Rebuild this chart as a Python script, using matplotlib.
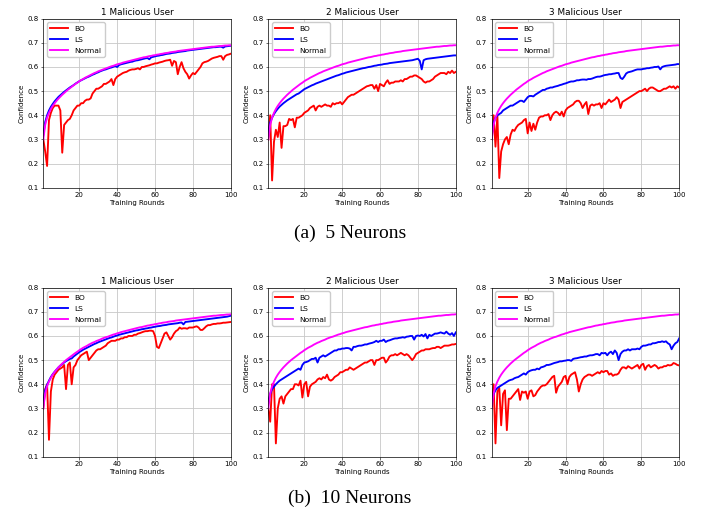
import numpy as np
import matplotlib
matplotlib.use('Agg')
import matplotlib.pyplot as plt

rounds = np.arange(1, 101)

# ---- 5 neurons ----
normal_5n = [0.300, 0.360, 0.390, 0.410, 0.426, 0.439, 0.450, 0.460, 0.469, 0.477,
             0.485, 0.492, 0.499, 0.506, 0.512, 0.518, 0.524, 0.530, 0.535, 0.541,
             0.546, 0.550, 0.555, 0.559, 0.563, 0.567, 0.571, 0.575, 0.578, 0.582,
             0.585, 0.588, 0.591, 0.594, 0.597, 0.600, 0.603, 0.605, 0.608, 0.611,
             0.613, 0.615, 0.618, 0.620, 0.622, 0.624, 0.626, 0.628, 0.630, 0.632,
             0.634, 0.636, 0.638, 0.640, 0.641, 0.643, 0.645, 0.646, 0.648, 0.649,
             0.651, 0.652, 0.654, 0.655, 0.657, 0.658, 0.659, 0.661, 0.662, 0.663,
             0.664, 0.666, 0.667, 0.668, 0.669, 0.670, 0.671, 0.672, 0.673, 0.674,
             0.675, 0.676, 0.677, 0.678, 0.679, 0.680, 0.681, 0.682, 0.683, 0.684,
             0.684, 0.685, 0.686, 0.687, 0.687, 0.688, 0.689, 0.689, 0.690, 0.690]

ls_1mal_5n = [0.320, 0.372, 0.400, 0.420, 0.435, 0.447, 0.458, 0.467, 0.476, 0.483,
              0.490, 0.497, 0.503, 0.509, 0.515, 0.520, 0.525, 0.531, 0.536, 0.541,
              0.545, 0.549, 0.553, 0.557, 0.560, 0.564, 0.568, 0.571, 0.575, 0.578,
              0.582, 0.585, 0.588, 0.590, 0.593, 0.596, 0.598, 0.601, 0.604, 0.600,
              0.608, 0.611, 0.613, 0.615, 0.617, 0.619, 0.621, 0.622, 0.625, 0.627,
              0.628, 0.630, 0.632, 0.634, 0.636, 0.637, 0.632, 0.640, 0.642, 0.644,
              0.646, 0.647, 0.649, 0.650, 0.652, 0.654, 0.655, 0.656, 0.658, 0.659,
              0.660, 0.662, 0.663, 0.664, 0.665, 0.666, 0.668, 0.669, 0.670, 0.671,
              0.672, 0.673, 0.674, 0.675, 0.676, 0.677, 0.678, 0.679, 0.680, 0.681,
              0.682, 0.682, 0.683, 0.684, 0.684, 0.680, 0.685, 0.686, 0.687, 0.688]

bo_1mal_5n = [0.300, 0.250, 0.190, 0.380, 0.410, 0.430, 0.440, 0.440, 0.440, 0.420,
              0.245, 0.360, 0.370, 0.380, 0.385, 0.400, 0.420, 0.430, 0.440, 0.440,
              0.450, 0.450, 0.460, 0.465, 0.465, 0.470, 0.490, 0.500, 0.510, 0.510,
              0.515, 0.520, 0.530, 0.530, 0.535, 0.540, 0.550, 0.525, 0.550, 0.560,
              0.565, 0.570, 0.575, 0.578, 0.580, 0.585, 0.588, 0.590, 0.590, 0.592,
              0.595, 0.590, 0.600, 0.600, 0.603, 0.605, 0.607, 0.610, 0.612, 0.615,
              0.615, 0.618, 0.620, 0.622, 0.625, 0.627, 0.628, 0.630, 0.605, 0.625,
              0.620, 0.570, 0.600, 0.620, 0.595, 0.580, 0.570, 0.552, 0.565, 0.575,
              0.570, 0.580, 0.590, 0.600, 0.615, 0.620, 0.622, 0.625, 0.630, 0.635,
              0.638, 0.640, 0.642, 0.645, 0.645, 0.630, 0.645, 0.650, 0.652, 0.655]

ls_2mal_5n = [0.330, 0.370, 0.390, 0.405, 0.417, 0.427, 0.436, 0.443, 0.450, 0.456,
              0.462, 0.467, 0.472, 0.477, 0.482, 0.487, 0.490, 0.496, 0.502, 0.508,
              0.512, 0.516, 0.520, 0.524, 0.527, 0.531, 0.534, 0.537, 0.540, 0.543,
              0.546, 0.549, 0.552, 0.555, 0.558, 0.561, 0.564, 0.566, 0.569, 0.572,
              0.574, 0.577, 0.579, 0.581, 0.583, 0.585, 0.587, 0.589, 0.591, 0.593,
              0.595, 0.596, 0.598, 0.600, 0.601, 0.603, 0.605, 0.606, 0.608, 0.609,
              0.610, 0.612, 0.613, 0.614, 0.616, 0.617, 0.618, 0.619, 0.620, 0.621,
              0.622, 0.623, 0.624, 0.625, 0.626, 0.627, 0.628, 0.630, 0.632, 0.634,
              0.625, 0.590, 0.628, 0.632, 0.634, 0.635, 0.636, 0.637, 0.638, 0.639,
              0.640, 0.641, 0.642, 0.643, 0.644, 0.645, 0.646, 0.647, 0.648, 0.648]

bo_2mal_5n = [0.300, 0.400, 0.130, 0.290, 0.340, 0.310, 0.370, 0.265, 0.355, 0.355,
              0.360, 0.385, 0.380, 0.385, 0.350, 0.390, 0.390, 0.395, 0.400, 0.410,
              0.415, 0.420, 0.430, 0.435, 0.440, 0.420, 0.435, 0.440, 0.435, 0.440,
              0.445, 0.440, 0.440, 0.435, 0.450, 0.445, 0.450, 0.450, 0.455, 0.445,
              0.455, 0.465, 0.475, 0.480, 0.485, 0.485, 0.490, 0.495, 0.500, 0.505,
              0.510, 0.515, 0.520, 0.522, 0.525, 0.525, 0.510, 0.525, 0.500, 0.530,
              0.525, 0.520, 0.535, 0.545, 0.530, 0.535, 0.535, 0.540, 0.540, 0.540,
              0.545, 0.540, 0.550, 0.550, 0.555, 0.560, 0.560, 0.565, 0.565, 0.560,
              0.555, 0.550, 0.540, 0.535, 0.540, 0.540, 0.545, 0.550, 0.560, 0.565,
              0.570, 0.575, 0.575, 0.575, 0.570, 0.580, 0.575, 0.585, 0.575, 0.580]

ls_3mal_5n = [0.320, 0.370, 0.390, 0.400, 0.405, 0.410, 0.420, 0.425, 0.430, 0.435,
              0.440, 0.440, 0.445, 0.450, 0.455, 0.460, 0.460, 0.455, 0.465, 0.475,
              0.480, 0.480, 0.478, 0.485, 0.490, 0.495, 0.500, 0.505, 0.505, 0.510,
              0.512, 0.515, 0.515, 0.518, 0.520, 0.522, 0.525, 0.527, 0.530, 0.532,
              0.535, 0.538, 0.540, 0.540, 0.542, 0.545, 0.545, 0.547, 0.548, 0.548,
              0.547, 0.550, 0.550, 0.552, 0.555, 0.558, 0.560, 0.560, 0.562, 0.565,
              0.567, 0.568, 0.570, 0.570, 0.572, 0.573, 0.575, 0.575, 0.555, 0.550,
              0.560, 0.573, 0.578, 0.580, 0.582, 0.585, 0.588, 0.590, 0.590, 0.590,
              0.592, 0.593, 0.595, 0.595, 0.597, 0.598, 0.600, 0.600, 0.602, 0.590,
              0.600, 0.603, 0.605, 0.606, 0.607, 0.608, 0.609, 0.610, 0.612, 0.612]

bo_3mal_5n = [0.300, 0.400, 0.270, 0.400, 0.140, 0.250, 0.280, 0.300, 0.310, 0.280,
              0.320, 0.340, 0.335, 0.350, 0.360, 0.365, 0.370, 0.380, 0.385, 0.325,
              0.370, 0.335, 0.365, 0.340, 0.370, 0.390, 0.395, 0.395, 0.400, 0.400,
              0.405, 0.380, 0.400, 0.410, 0.415, 0.410, 0.400, 0.415, 0.395, 0.420,
              0.430, 0.435, 0.440, 0.445, 0.455, 0.460, 0.460, 0.450, 0.430, 0.445,
              0.455, 0.405, 0.440, 0.445, 0.440, 0.445, 0.445, 0.450, 0.430, 0.450,
              0.445, 0.455, 0.465, 0.455, 0.460, 0.465, 0.475, 0.465, 0.430, 0.455,
              0.460, 0.465, 0.470, 0.475, 0.480, 0.485, 0.490, 0.495, 0.500, 0.500,
              0.505, 0.510, 0.500, 0.510, 0.515, 0.515, 0.510, 0.505, 0.500, 0.500,
              0.505, 0.510, 0.510, 0.515, 0.520, 0.515, 0.520, 0.510, 0.520, 0.515]

# ---- 10 neurons ----
normal_10n = [0.300, 0.362, 0.392, 0.411, 0.427, 0.440, 0.451, 0.461, 0.470, 0.478,
              0.486, 0.493, 0.500, 0.506, 0.512, 0.518, 0.524, 0.530, 0.535, 0.541,
              0.546, 0.551, 0.555, 0.559, 0.564, 0.568, 0.572, 0.575, 0.579, 0.582,
              0.585, 0.589, 0.592, 0.595, 0.597, 0.600, 0.603, 0.606, 0.608, 0.611,
              0.613, 0.616, 0.618, 0.620, 0.622, 0.624, 0.626, 0.628, 0.630, 0.632,
              0.634, 0.636, 0.637, 0.639, 0.641, 0.643, 0.644, 0.646, 0.647, 0.649,
              0.650, 0.652, 0.653, 0.655, 0.656, 0.657, 0.659, 0.660, 0.661, 0.662,
              0.664, 0.665, 0.666, 0.667, 0.668, 0.669, 0.670, 0.671, 0.672, 0.673,
              0.674, 0.675, 0.676, 0.677, 0.678, 0.679, 0.680, 0.681, 0.682, 0.683,
              0.684, 0.684, 0.685, 0.686, 0.687, 0.687, 0.688, 0.689, 0.689, 0.690]

ls_1mal_10n = [0.330, 0.375, 0.398, 0.415, 0.430, 0.442, 0.452, 0.461, 0.470, 0.477,
               0.484, 0.490, 0.496, 0.500, 0.505, 0.507, 0.515, 0.521, 0.527, 0.533,
               0.538, 0.543, 0.547, 0.551, 0.555, 0.559, 0.563, 0.567, 0.570, 0.574,
               0.577, 0.580, 0.583, 0.586, 0.589, 0.592, 0.594, 0.597, 0.600, 0.602,
               0.605, 0.607, 0.609, 0.611, 0.613, 0.615, 0.617, 0.619, 0.621, 0.623,
               0.624, 0.626, 0.628, 0.629, 0.631, 0.632, 0.634, 0.635, 0.637, 0.638,
               0.640, 0.641, 0.642, 0.644, 0.645, 0.646, 0.648, 0.649, 0.650, 0.651,
               0.652, 0.653, 0.655, 0.656, 0.648, 0.658, 0.659, 0.660, 0.661, 0.662,
               0.663, 0.664, 0.665, 0.666, 0.667, 0.668, 0.669, 0.670, 0.671, 0.672,
               0.673, 0.674, 0.675, 0.676, 0.677, 0.678, 0.679, 0.680, 0.682, 0.684]

bo_1mal_10n = [0.300, 0.380, 0.400, 0.170, 0.370, 0.420, 0.440, 0.450, 0.460, 0.465,
               0.470, 0.480, 0.380, 0.480, 0.490, 0.400, 0.470, 0.480, 0.500, 0.510,
               0.520, 0.525, 0.530, 0.535, 0.500, 0.510, 0.520, 0.530, 0.540, 0.545,
               0.545, 0.550, 0.555, 0.560, 0.570, 0.575, 0.580, 0.580, 0.580, 0.585,
               0.585, 0.590, 0.590, 0.595, 0.595, 0.600, 0.600, 0.600, 0.605, 0.605,
               0.610, 0.612, 0.615, 0.618, 0.620, 0.620, 0.622, 0.622, 0.620, 0.600,
               0.555, 0.550, 0.570, 0.590, 0.610, 0.615, 0.600, 0.585, 0.595, 0.610,
               0.620, 0.625, 0.635, 0.630, 0.632, 0.632, 0.630, 0.635, 0.635, 0.635,
               0.638, 0.640, 0.635, 0.625, 0.625, 0.632, 0.640, 0.645, 0.645, 0.648,
               0.650, 0.650, 0.652, 0.652, 0.653, 0.655, 0.655, 0.656, 0.657, 0.658]

ls_2mal_10n = [0.330, 0.360, 0.380, 0.390, 0.400, 0.408, 0.415, 0.420, 0.425, 0.430,
               0.435, 0.440, 0.445, 0.450, 0.455, 0.460, 0.465, 0.460, 0.480, 0.490,
               0.492, 0.495, 0.500, 0.505, 0.505, 0.510, 0.490, 0.510, 0.515, 0.520,
               0.515, 0.520, 0.525, 0.530, 0.535, 0.540, 0.540, 0.545, 0.545, 0.548,
               0.548, 0.550, 0.550, 0.548, 0.540, 0.555, 0.555, 0.558, 0.560, 0.560,
               0.562, 0.565, 0.565, 0.568, 0.570, 0.572, 0.575, 0.580, 0.575, 0.580,
               0.580, 0.585, 0.575, 0.580, 0.582, 0.585, 0.588, 0.590, 0.590, 0.592,
               0.593, 0.595, 0.593, 0.597, 0.598, 0.600, 0.600, 0.585, 0.600, 0.602,
               0.600, 0.605, 0.598, 0.608, 0.590, 0.605, 0.600, 0.605, 0.610, 0.610,
               0.612, 0.615, 0.612, 0.610, 0.618, 0.610, 0.605, 0.612, 0.600, 0.615]

bo_2mal_10n = [0.300, 0.245, 0.400, 0.400, 0.155, 0.300, 0.340, 0.350, 0.320, 0.350,
               0.360, 0.370, 0.380, 0.380, 0.400, 0.400, 0.395, 0.415, 0.345, 0.400,
               0.410, 0.350, 0.390, 0.400, 0.405, 0.410, 0.420, 0.425, 0.420, 0.430,
               0.425, 0.440, 0.420, 0.415, 0.420, 0.430, 0.435, 0.440, 0.450, 0.450,
               0.455, 0.460, 0.460, 0.470, 0.465, 0.460, 0.465, 0.470, 0.475, 0.480,
               0.485, 0.490, 0.490, 0.495, 0.500, 0.500, 0.480, 0.500, 0.500, 0.505,
               0.510, 0.510, 0.490, 0.500, 0.515, 0.520, 0.520, 0.525, 0.520, 0.525,
               0.530, 0.525, 0.520, 0.525, 0.520, 0.510, 0.500, 0.510, 0.525, 0.530,
               0.535, 0.540, 0.540, 0.545, 0.545, 0.545, 0.548, 0.550, 0.550, 0.555,
               0.555, 0.550, 0.555, 0.560, 0.560, 0.560, 0.562, 0.565, 0.565, 0.567]

ls_3mal_10n = [0.330, 0.360, 0.375, 0.385, 0.390, 0.395, 0.400, 0.405, 0.410, 0.415,
               0.418, 0.420, 0.425, 0.428, 0.430, 0.435, 0.440, 0.445, 0.440, 0.450,
               0.455, 0.458, 0.460, 0.460, 0.465, 0.462, 0.470, 0.472, 0.475, 0.480,
               0.480, 0.482, 0.485, 0.488, 0.490, 0.492, 0.495, 0.495, 0.497, 0.498,
               0.500, 0.500, 0.497, 0.505, 0.507, 0.508, 0.510, 0.512, 0.513, 0.515,
               0.515, 0.518, 0.520, 0.520, 0.522, 0.525, 0.525, 0.520, 0.530, 0.528,
               0.530, 0.520, 0.530, 0.535, 0.525, 0.540, 0.530, 0.500, 0.525, 0.535,
               0.540, 0.540, 0.545, 0.540, 0.545, 0.545, 0.545, 0.548, 0.545, 0.555,
               0.560, 0.560, 0.562, 0.565, 0.565, 0.570, 0.570, 0.572, 0.575, 0.575,
               0.578, 0.575, 0.578, 0.570, 0.565, 0.545, 0.560, 0.570, 0.575, 0.590]

bo_3mal_10n = [0.310, 0.400, 0.155, 0.370, 0.385, 0.230, 0.360, 0.375, 0.210, 0.340,
               0.340, 0.350, 0.360, 0.370, 0.380, 0.335, 0.370, 0.365, 0.370, 0.340,
               0.370, 0.375, 0.350, 0.355, 0.370, 0.380, 0.390, 0.395, 0.395, 0.400,
               0.410, 0.420, 0.430, 0.435, 0.365, 0.390, 0.400, 0.410, 0.430, 0.435,
               0.400, 0.430, 0.440, 0.445, 0.450, 0.420, 0.370, 0.400, 0.420, 0.430,
               0.435, 0.440, 0.440, 0.435, 0.440, 0.445, 0.450, 0.445, 0.455, 0.450,
               0.455, 0.455, 0.440, 0.445, 0.435, 0.440, 0.440, 0.445, 0.460, 0.470,
               0.470, 0.465, 0.475, 0.470, 0.465, 0.470, 0.475, 0.480, 0.465, 0.480,
               0.485, 0.460, 0.475, 0.480, 0.470, 0.475, 0.480, 0.475, 0.465, 0.470,
               0.470, 0.475, 0.475, 0.480, 0.478, 0.480, 0.488, 0.485, 0.480, 0.478]

titles = ['1 Malicious User', '2 Malicious User', '3 Malicious User']
captions = ['(a)  5 Neurons', '(b)  10 Neurons']

rows = [
    [(bo_1mal_5n, ls_1mal_5n, normal_5n),
     (bo_2mal_5n, ls_2mal_5n, normal_5n),
     (bo_3mal_5n, ls_3mal_5n, normal_5n)],
    [(bo_1mal_10n, ls_1mal_10n, normal_10n),
     (bo_2mal_10n, ls_2mal_10n, normal_10n),
     (bo_3mal_10n, ls_3mal_10n, normal_10n)],
]

fig = plt.figure(figsize=(7.13, 5.14), dpi=100)

lefts = [43.3 / 713, 268.3 / 713, 491.7 / 713]
width = 187.5 / 713
bottoms = [1 - 187.7 / 514, 1 - 456.7 / 514]
height = 169.0 / 514

for r in range(2):
    for c in range(3):
        bo, ls, normal = rows[r][c]
        ax = fig.add_axes([lefts[c], bottoms[r], width, height])
        ax.plot(rounds, bo, color='red', lw=1.35, label='BO')
        ax.plot(rounds, ls, color='blue', lw=1.35, label='LS')
        ax.plot(rounds, normal, color='magenta', lw=1.35, label='Normal')
        ax.set_xlim(1, 100)
        ax.set_ylim(0.1, 0.8)
        ax.set_xticks([20, 40, 60, 80, 100])
        ax.set_yticks(np.arange(0.1, 0.81, 0.1))
        ax.set_yticklabels(['%.1f' % v for v in np.arange(0.1, 0.81, 0.1)])
        ax.grid(True, color='#c8c8c8', lw=0.6)
        ax.tick_params(labelsize=5, length=1.8, width=0.4, pad=1.5)
        for sp in ax.spines.values():
            sp.set_linewidth(0.5)
        ax.set_title(titles[c], fontsize=6.4, pad=3)
        ax.set_xlabel('Training Rounds', fontsize=5, labelpad=1.5)
        ax.set_ylabel('Confidence', fontsize=5, labelpad=2)
        ax.legend(loc='upper left', fontsize=5.4, handlelength=2.4,
                  borderpad=0.45, labelspacing=0.6, framealpha=1,
                  edgecolor='#cccccc', fancybox=True)

fig.text(350 / 713, 1 - 233 / 514, captions[0], ha='center', va='center',
         fontsize=14, family='Liberation Serif')
fig.text(350 / 713, 1 - 498 / 514, captions[1], ha='center', va='center',
         fontsize=14, family='Liberation Serif')

fig.savefig('out.png', dpi=100)
